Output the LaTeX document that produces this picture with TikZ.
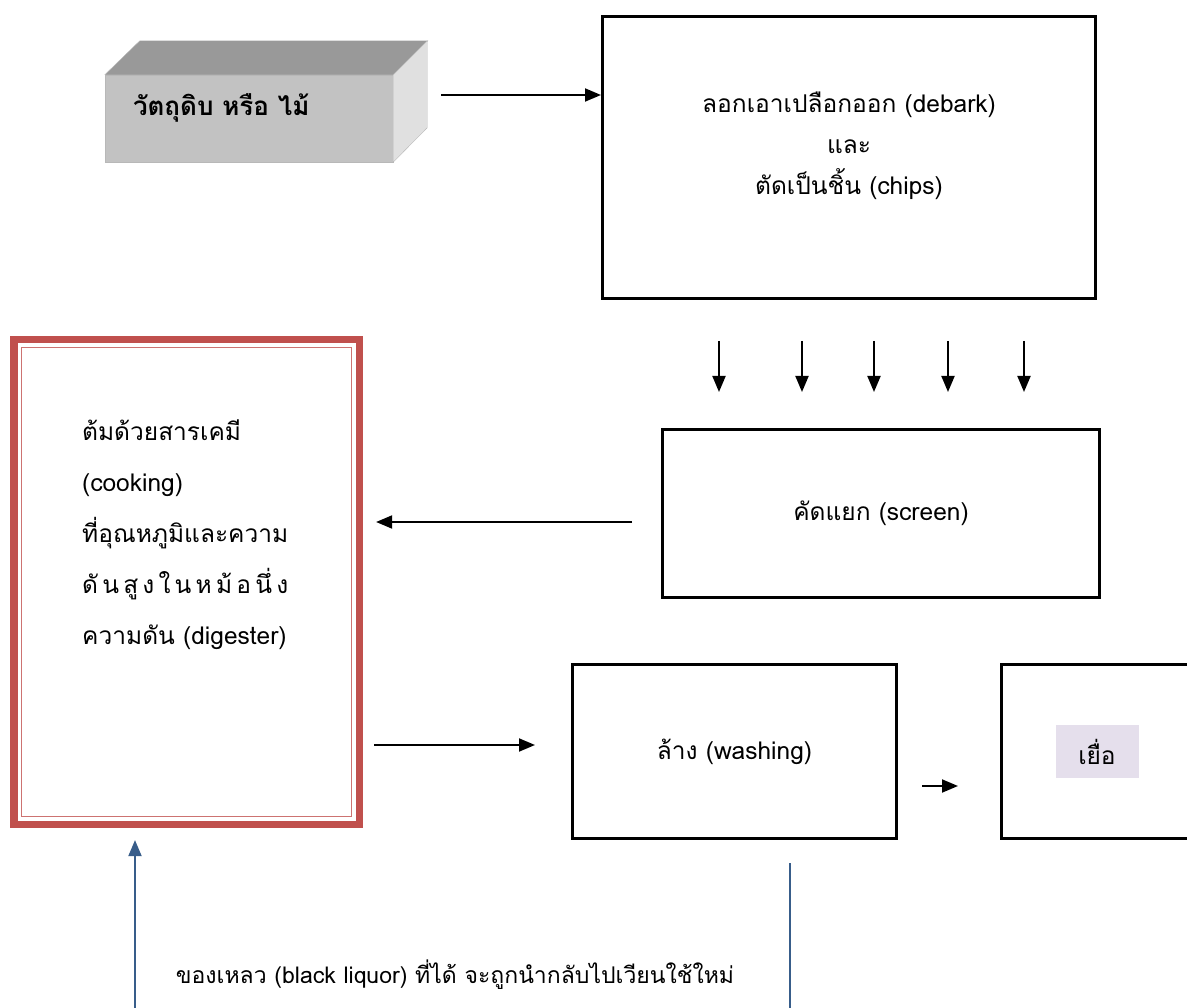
\documentclass[tikz,border=0pt]{standalone}
\usepackage{fontspec}
\usepackage{calc}
\setmainfont[Script=Thai]{Loma}
\usetikzlibrary{arrows.meta}

\definecolor{digred}{RGB}{192,80,77}
\definecolor{liquorblue}{RGB}{56,93,138}
\definecolor{pulpbg}{RGB}{229,223,236}

\begin{document}
\begin{tikzpicture}[x=1pt, y=-1pt, font=\fontsize{24.5}{41}\selectfont]
		\tikzstyle{stage} = [rectangle, draw=black, line width=3pt, align=center, inner sep=0pt]
		
		\tikzstyle{arrow} = [-{Triangle[length=16pt,width=13pt]}, line width=1.9pt]
		
		\tikzstyle{recycle} = [draw=liquorblue, line width=1.9pt]
		
		\useasboundingbox (0,0) rectangle (1187,1008);
		\clip (0,0) rectangle (1187,1008);
		
		% Raw material block
		\node (raw) [rectangle, fill=black!24, draw=black!28, minimum width=288pt, minimum height=87pt, inner sep=0pt] at (249,118.5) {};
		\filldraw [fill=black!40, draw=black!28] (raw.north west) -- ++(35,-34) -- ++(288,0) -- (raw.north east) -- cycle;
		\filldraw [fill=black!12, draw=black!28] (raw.north east) -- ++(34,-34) -- ++(0,87) -- (raw.south east) -- cycle;
		\node (raw-text) [anchor=west, inner sep=0pt, font=\bfseries\fontsize{26}{26}\selectfont] at ([xshift=28pt, yshift=11pt]raw.west) {วัตถุดิบ หรือ ไม้};
		
		% Process boxes
		\node (debark) [stage, minimum width=493pt, minimum height=282pt] at (849,157.5) {};
		\node (debark-text) [align=center] at ([yshift=12pt]debark.center) {ลอกเอาเปลือกออก (debark)\\และ\\ตัดเป็นชิ้น (chips)};
		\node (screen) [stage, minimum width=437pt, minimum height=168pt] at (881,513.5) {คัดแยก (screen)};
		\node (wash) [stage, minimum width=324pt, minimum height=174pt] at (734.5,751.5) {ล้าง (washing)};
		\node (pulp) [stage, minimum width=191pt, minimum height=174pt] at (1097,751.5) {};
		\node (pulp-text) [fill=pulpbg, minimum width=83pt, minimum height=53pt, inner sep=0pt] at (pulp.center) {เยื่อ};
		
		% Digester
		\node (dig) [rectangle, draw=digred, line width=7.6pt, minimum width=345.6pt, minimum height=484.6pt] at (186.5,582) {};
		\draw [digred!80, line width=1.6pt] ([shift={(11.5,11.5)}]dig.north west) rectangle ([shift={(-11.5,-11.5)}]dig.south east);
		\node (dig-text) [anchor=north west, align=left, inner sep=0pt, font=\fontsize{24.5}{51}\selectfont] at (82,420) {ต้มด้วยสารเคมี\\(cooking)\\ที่อุณหภูมิและความ\\\makebox[\widthof{ที่อุณหภูมิและความ}][s]{ดั\hfill น\hfill สู\hfill ง\hfill ใ\hfill น\hfill ห\hfill ม้\hfill อ\hfill นึ่\hfill ง}\\ความดัน (digester)};
		
		% Arrows
		\coordinate (raw-out) at ([yshift=23.5pt]raw.east);
		\draw [arrow, shorten <=48pt] (raw-out) -- (debark.west |- raw-out);
		\foreach \dx in {-130,-47,25,99,175}
			\draw [arrow] ([xshift=\dx pt, yshift=-41pt]debark.south) -- ++(0,51);
		\coordinate (scr-out) at ([yshift=-8.5pt]screen.west);
		\draw [arrow, shorten <=29pt, shorten >=13pt] (scr-out) -- (dig.east |- scr-out);
		\coordinate (wash-in) at ([yshift=6.5pt]wash.west);
		\draw [arrow, shorten <=11pt, shorten >=36pt] (dig.east |- wash-in) -- (wash-in);
		\coordinate (wash-out) at ([yshift=-34.5pt]wash.east);
		\draw [arrow, shorten <=24pt, shorten >=42pt] (wash-out) -- (pulp.west |- wash-out);
		
		% Black liquor return
		\coordinate (liq-l) at (135,1008);
		\coordinate (liq-r) at (790,1008);
		\draw [recycle, -{Triangle[length=16pt,width=13pt]}, shorten >=12pt] (liq-l) -- (liq-l |- dig.south);
		\draw [recycle, shorten >=23pt] (liq-r) -- (liq-r |- wash.south);
		\node (liquor) [font=\fontsize{23}{23}\selectfont] at (455,975) {ของเหลว (black liquor) ที่ได้ จะถูกนำกลับไปเวียนใช้ใหม่};
	\end{tikzpicture}
\end{document}
